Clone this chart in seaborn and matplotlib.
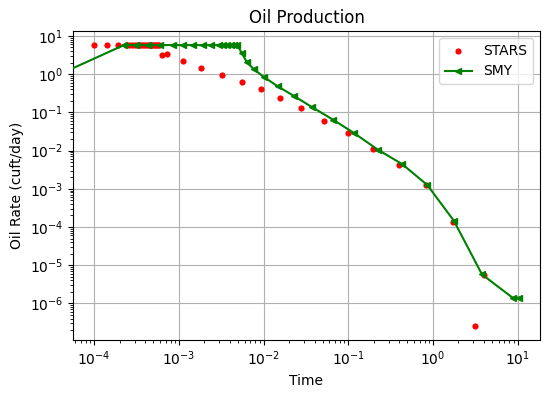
import numpy as np
import pandas as pd
import matplotlib
matplotlib.use("Agg")
import matplotlib.pyplot as plt
import seaborn as sns

# STARS results (red points)
stars_time = [1.0e-4, 1.4e-4, 1.9e-4,
              2.4e-4, 2.6e-4, 2.8e-4, 3.0e-4, 3.2e-4, 3.4e-4, 3.6e-4, 3.8e-4, 4.0e-4,
              4.2e-4, 4.4e-4, 4.6e-4, 4.8e-4, 5.0e-4, 5.2e-4, 5.4e-4, 5.6e-4, 5.8e-4,
              6.25e-4, 7.2e-4, 1.12e-3, 1.83e-3, 3.24e-3, 5.6e-3, 9.4e-3, 0.0156, 0.0277,
              0.0515, 0.099, 0.196, 0.397, 0.83, 1.74, 3.11, 3.98]
stars_rate = [5.7, 5.7, 5.7,
              5.7, 5.7, 5.7, 5.7, 5.7, 5.7, 5.7, 5.7, 5.7,
              5.7, 5.7, 5.7, 5.7, 5.7, 5.7, 5.7, 5.7, 5.7,
              3.1, 3.4, 2.15, 1.44, 0.94, 0.63, 0.40, 0.23, 0.129,
              0.058, 0.028, 0.0107, 0.0043, 0.00122, 1.39e-4, 2.6e-7, 5.6e-6]

# SMY results (green line)
smy_time = [0.0, 2.24e-4, 3.11e-4, 4.32e-4, 6.0e-4, 8.53e-4, 1.12e-3, 1.47e-3, 1.93e-3,
            2.40e-3, 2.99e-3, 3.33e-3, 3.71e-3, 4.15e-3, 4.50e-3, 4.89e-3,
            5.55e-3, 6.37e-3, 7.62e-3, 0.0100, 0.0147, 0.0226, 0.0374, 0.0662, 0.118,
            0.223, 0.435, 0.859, 1.77, 3.80, 8.71, 10.3]
smy_rate = [0.0, 5.72, 5.72, 5.72, 5.72, 5.72, 5.72, 5.72, 5.72,
            5.72, 5.72, 5.72, 5.72, 5.72, 5.72, 5.72,
            3.47, 2.02, 1.35, 0.85, 0.477, 0.271, 0.136, 0.064, 0.0283,
            0.01055, 0.00439, 0.00125, 1.45e-4, 5.75e-6, 1.42e-6, 1.42e-6]

stars = pd.DataFrame({"Time": stars_time, "Rate": stars_rate})
smy = pd.DataFrame({"Time": smy_time, "Rate": smy_rate})

fig, ax = plt.subplots(figsize=(5.47, 3.98), dpi=100)

sns.scatterplot(data=stars, x="Time", y="Rate", ax=ax, color="red", s=20,
                linewidth=0, label="STARS", zorder=2)
sns.lineplot(data=smy, x="Time", y="Rate", ax=ax, color="green", marker="<",
             markersize=4, markeredgewidth=1, markeredgecolor="green",
             markerfacecolor="green", estimator=None, sort=False,
             label="SMY", zorder=3)

ax.set_xscale("log")
ax.set_yscale("log")
ax.set_xlabel("Time")
ax.set_ylabel("Oil Rate (cuft/day)")
ax.set_title("Oil Production")
ax.grid(True)
ax.legend(loc="upper right")

plt.subplots_adjust(left=0.1335, right=0.987, top=0.922, bottom=0.146)
plt.savefig("out.png", dpi=100)
plt.close()
